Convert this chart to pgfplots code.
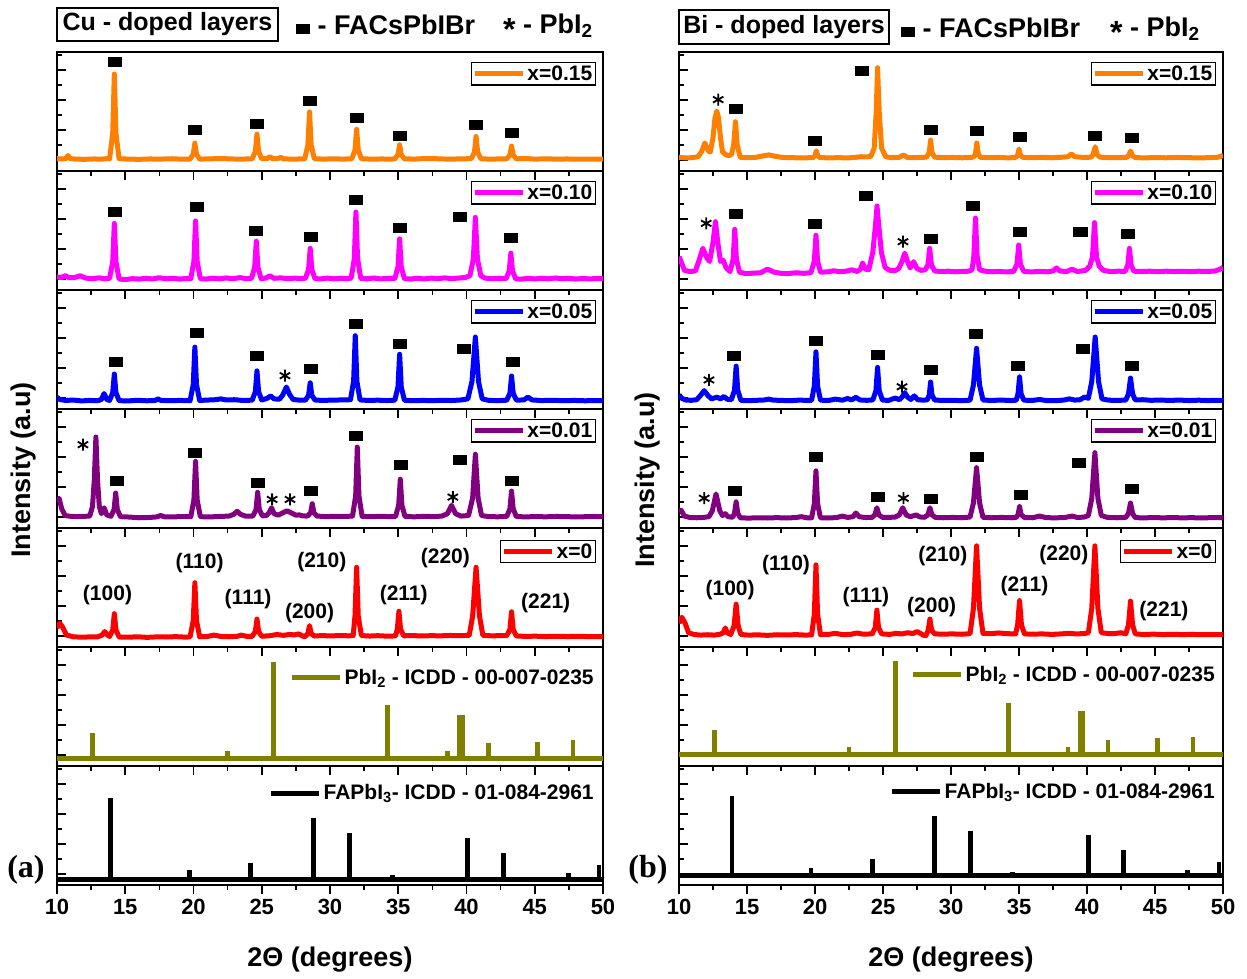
\documentclass[border=0pt]{standalone}
\usepackage{fontspec}
\setmainfont{Liberation Sans}
\newfontfamily\serifb{Liberation Serif}
\usepackage{pgfplots}
\pgfplotsset{compat=1.18}
\definecolor{corange}{RGB}{255,128,0}
\definecolor{cmag}{RGB}{255,0,255}
\definecolor{cblue}{RGB}{0,0,255}
\definecolor{cpurp}{RGB}{128,0,128}
\definecolor{cred}{RGB}{255,0,0}
\definecolor{colive}{RGB}{128,128,0}
\pgfplotsset{
  panel/.style={
    scale only axis, anchor=south west, width=#1, height=119pt,
    xmin=10, xmax=50, ymin=0, ymax=100,
    xtick={10,15,...,50}, minor x tick num=1,
    ytick={9.2,34.4,59.6,84.8}, minor ytick={21.8,47,72.2,97.4},
    xtick pos=bottom, ytick pos=left,
    xtick align=outside, ytick align=inside,
    xticklabels={}, yticklabels={},
    axis line style={line width=1.6pt},
    tick style={black,line width=1.6pt},
    major tick length=9pt, minor tick length=5pt,
    unbounded coords=jump,
    legend cell align=left,
  },
  bottompanel/.style={xticklabels={10,15,20,25,30,35,40,45,50},
    xticklabel style={font=\fontsize{22}{22}\selectfont\bfseries, yshift=-2pt}},
  explegend/.style={legend style={at={(#1)}, anchor=north east, draw=black, line width=1.3pt, fill=white,
     font=\fontsize{21}{22}\selectfont\bfseries, inner xsep=1pt, inner ysep=1pt},
     legend image code/.code={\draw[##1,line width=5pt] (0pt,0pt) -- (48pt,0pt);}},
  reflegend/.style={legend style={at={(#1)}, anchor=east, draw=none, fill=none,
     font=\fontsize{21}{22}\selectfont\bfseries, inner sep=0pt},
     legend image code/.code={\draw[##1,line width=5pt] (0pt,0pt) -- (48pt,0pt);}},
  trace/.style={line width=5pt, line join=round, color=#1, mark=none},
  stick/.style={line width=4.8pt, line cap=butt, color=#1, mark=none, forget plot},
  sq/.style={only marks, mark=square*, mark size=4.5pt, mark options={xscale=1.45, fill=black, draw=black}, forget plot},
  st/.style={only marks, mark=asterisk, mark size=6pt, mark options={line width=1.8pt, draw=black}, forget plot},
  hkl/.style={draw=none, mark=none, nodes near coords, point meta=explicit symbolic,
     every node near coord/.style={anchor=center, black, font=\fontsize{21}{21}\selectfont\bfseries}, forget plot},
}
\begin{document}
\begin{tikzpicture}[x=1pt,y=1pt]
\useasboundingbox (0,0) rectangle (1247,978);
%================= LEFT COLUMN =================
% panel 1
\begin{axis}[panel=546pt, at={(57pt,807pt)}, explegend={0.987,0.915}]
\addplot[trace=corange] coordinates {(10,10.3)(10.5,10.2)(10.65,10.5)(10.8,13)(10.95,10.5)(11.3,10)(12,9.8)(12.7,10.1)(13.3,10)(13.7,10.4)(13.85,10.2)(14.08,31.5)(14.2,81.5)(14.32,31.5)(14.55,10.4)(15.2,10)(16,9.8)(16.8,10.1)(17.6,10)(18.4,10.3)(19.2,9.9)(19.75,10)(19.98,14)(20.1,23.5)(20.22,14)(20.45,10)(21.2,10.2)(22,10.5)(22.8,10.1)(23.5,10)(24.3,10.2)(24.53,16.3)(24.65,31)(24.77,16.3)(25,10.3)(25.4,10.4)(25.6,12)(25.8,10.3)(26.2,10.5)(26.4,11.5)(26.6,10.2)(27.2,10)(27.8,10.1)(28.15,10.2)(28.38,21.9)(28.5,49.6)(28.62,21.9)(28.85,10.3)(29.5,10)(30.3,10.2)(31,10)(31.6,10.3)(31.83,17.5)(31.95,35)(32.07,17.5)(32.3,10.3)(33,10)(33.8,10.1)(34.5,10)(34.75,10.2)(34.98,13.6)(35.1,22)(35.22,13.6)(35.45,10.2)(36.2,10)(37,10.5)(37.8,10.3)(38.6,10)(39.4,10.1)(40.35,10.4)(40.58,15.7)(40.7,29)(40.82,15.7)(41.05,10.3)(41.6,10)(42.3,10.1)(42.95,10.3)(43.18,13.3)(43.3,21)(43.42,13.3)(43.65,10.2)(44.3,10.5)(45,10)(45.8,10.2)(46.6,10)(47.4,10.1)(48.2,9.9)(49,10)(50,10)};
\addlegendentry{x=0.15}
\addplot[sq] coordinates {(14.2,91.6)(20.1,35)(24.65,40)(28.5,59)(31.95,45)(35.1,30)(40.7,38.6)(43.3,32)};
\end{axis}
% panel 2
\begin{axis}[panel=546pt, at={(57pt,688pt)}, explegend={0.987,0.915}]
\addplot[trace=cmag] coordinates {(10,11)(10.3,10.5)(10.6,12)(10.9,10.3)(11.3,10.5)(11.7,12)(12.1,10)(12.6,9.5)(13.1,10.2)(13.5,9.4)(13.85,9.8)(14.08,23.5)(14.2,56)(14.32,23.5)(14.55,9.2)(15,8.8)(15.5,9.5)(16,9.2)(16.5,9.8)(17,9.3)(17.5,10.3)(18,9.4)(18.5,9.8)(19,9.2)(19.5,9.7)(19.8,9.6)(20.03,24)(20.15,58)(20.27,24)(20.5,9.5)(20.9,9.2)(21.4,9.9)(21.9,9.4)(22.4,10.1)(22.9,9.5)(23.4,10.4)(23.8,9.6)(24.25,9.8)(24.48,19)(24.6,41)(24.72,19)(24.95,9.6)(25.3,10)(25.6,12)(25.9,9.8)(26.4,10.2)(26.9,9.5)(27.4,10)(27.8,9.6)(28.2,9.9)(28.43,17.2)(28.55,35)(28.67,17.2)(28.9,9.6)(29.3,9.3)(29.8,10)(30.3,9.4)(30.8,9.9)(31.2,9.5)(31.55,10)(31.78,26.3)(31.9,65.5)(32.02,26.3)(32.25,9.8)(32.7,9.4)(33.2,10.1)(33.7,9.3)(34.2,9.8)(34.75,9.6)(34.98,19.5)(35.1,43)(35.22,19.5)(35.45,9.5)(35.9,9.2)(36.4,9.9)(36.9,9.3)(37.4,10)(37.9,9.5)(38.4,10.2)(38.9,9.6)(39.4,10)(39.9,10.5)(40.25,12)(40.5,26)(40.65,61)(40.8,26)(41.05,12)(41.35,10)(41.8,9.5)(42.3,9.8)(42.9,9.6)(43.13,16)(43.25,31)(43.37,16)(43.6,9.4)(44,9.1)(44.5,9.8)(45,9.3)(45.5,9.9)(46,9.4)(46.5,10.1)(47,9.5)(47.5,9.8)(48,9.2)(48.5,9.7)(49,9.3)(49.5,9.6)(50,9.5)};
\addlegendentry{x=0.10}
\addplot[sq] coordinates {(14.2,65.5)(20.2,70)(24.55,50)(28.6,45)(31.9,75.6)(35.1,52)(39.5,62)(43.25,44)};
\end{axis}
% panel 3
\begin{axis}[panel=546pt, at={(57pt,569pt)}, explegend={0.987,0.915}]
\addplot[trace=cblue] coordinates {(10,10)(10.2,8)(10.6,7.2)(11.2,7.5)(11.8,6.8)(12.4,7.2)(13,7)(13.25,8)(13.45,13)(13.65,8)(13.85,7.2)(14.08,13.7)(14.2,29.4)(14.32,13.7)(14.55,7)(15.2,6.8)(15.9,7.3)(16.6,6.9)(17.2,7.2)(17.4,8.5)(17.6,7.2)(18.3,7)(19,7.2)(19.75,7)(19.98,20.5)(20.1,52)(20.22,20.5)(20.45,7.2)(21,7.5)(21.6,7.8)(22,8.5)(22.4,7.6)(23,7.8)(23.6,7.2)(24.3,7.4)(24.53,14.5)(24.65,32)(24.77,14.5)(25,7.5)(25.4,9)(25.65,11)(25.9,8.5)(26.3,8.2)(26.55,12)(26.8,18.5)(27.05,12)(27.3,8)(27.7,7.5)(28.2,7.4)(28.43,11.5)(28.55,22)(28.67,11.5)(28.9,7.5)(29.5,7.2)(30.2,7.5)(30.9,7.6)(31.5,7.8)(31.73,23.4)(31.85,61.6)(31.97,23.4)(32.2,7.6)(32.8,7.2)(33.5,7.4)(34.2,7.1)(34.75,7.4)(34.98,18.7)(35.1,46)(35.22,18.7)(35.45,7.3)(36.1,7)(36.8,7.2)(37.5,7)(38.2,7.3)(38.9,7.1)(39.6,7.6)(40.1,8.5)(40.4,23)(40.65,60.5)(40.88,23)(41.15,8.5)(41.6,7.3)(42.3,7)(42.95,7.4)(43.18,13.2)(43.3,27.7)(43.42,13.2)(43.65,7.5)(44.2,7.6)(44.5,10)(44.8,7.6)(45.5,7.1)(46.3,7.3)(47.1,7)(47.9,7.2)(48.7,6.9)(49.4,7.1)(50,7)};
\addlegendentry{x=0.05}
\addplot[sq] coordinates {(14.3,40)(20.2,64)(24.65,45)(28.6,33.6)(31.85,72)(35.1,55)(39.8,51)(43.4,40)};
\addplot[st] coordinates {(26.7,28)};
\end{axis}
% panel 4
\begin{axis}[panel=546pt, at={(57pt,450pt)}, explegend={0.987,0.915}]
\addplot[trace=cpurp] coordinates {(10,22)(10.15,25)(10.35,16)(10.6,10.5)(11,9.8)(11.5,9.6)(12,9.8)(12.4,10)(12.6,18)(12.73,40)(12.85,76.5)(12.97,40)(13.1,18)(13.25,12)(13.45,17)(13.65,11)(13.95,9.8)(14.18,15.5)(14.3,29.4)(14.42,15.5)(14.65,9.5)(15.3,9.2)(16,8.6)(16.7,8.8)(17.3,9.3)(17.6,10.5)(17.9,9.3)(18.6,9.4)(19.3,9.6)(19.8,9.5)(20.03,23.5)(20.15,56)(20.27,23.5)(20.5,9.5)(21.2,9.3)(21.9,9.7)(22.6,10)(22.95,11.5)(23.2,14)(23.45,11.5)(23.8,10)(24.35,10)(24.58,15.5)(24.7,30)(24.82,15.5)(25.05,10.2)(25.35,10.5)(25.55,13)(25.72,17)(25.9,12)(26.2,10.8)(26.5,12.5)(26.85,14.5)(27.2,12.5)(27.5,10.8)(27.75,11)(28,10.2)(28.35,10)(28.58,12.8)(28.7,20.4)(28.82,12.8)(29.05,10)(29.7,9.6)(30.4,9.8)(31.1,9.7)(31.65,10)(31.88,27)(32,68)(32.12,27)(32.35,9.8)(33,9.5)(33.7,9.8)(34.4,9.5)(34.8,9.7)(35.03,19)(35.15,41)(35.27,19)(35.5,9.6)(36.2,9.4)(36.9,9.8)(37.6,9.6)(38.2,10)(38.6,12)(38.9,19)(39.2,12)(39.6,10)(40.15,10.5)(40.45,25.2)(40.65,62)(40.85,25.2)(41.1,10.5)(41.6,9.6)(42.3,9.4)(42.95,9.8)(43.18,16)(43.3,31)(43.42,16)(43.65,9.7)(44.3,9.3)(45,9.6)(45.8,9.4)(46.6,9.7)(47.4,9.5)(48.2,9.3)(49,9.6)(50,9.5)};
\addlegendentry{x=0.01}
\addplot[sq] coordinates {(14.35,39.5)(20.1,63)(24.7,38)(28.6,31)(31.9,77.5)(35.2,53)(39.5,57)(43.3,40)};
\addplot[st] coordinates {(11.9,70)(25.76,24)(27.07,24)(39.0,26)};
\end{axis}
% panel 5
\begin{axis}[panel=546pt, at={(57pt,331pt)}, explegend={0.987,0.9}]
\addplot[trace=cred] coordinates {(10,16)(10.2,20)(10.4,17)(10.7,10)(11.2,8.6)(11.8,8.2)(12.4,8.5)(13,8.6)(13.3,10)(13.5,13)(13.7,10)(13.85,8.8)(14.08,14.3)(14.2,28)(14.32,14.3)(14.55,8.4)(15.2,8.2)(15.9,8.6)(16.6,8.1)(17.3,8.5)(18,8.4)(18.7,8.7)(19.4,8.3)(19.75,8.5)(19.98,22.1)(20.1,54)(20.22,22.1)(20.45,8.6)(21,8.8)(21.5,10)(22,8.9)(22.6,8.6)(23.2,9)(23.5,10)(23.9,8.9)(24.3,9)(24.53,13)(24.65,23.5)(24.77,13)(25,9)(25.6,9.5)(26.1,10.5)(26.6,9.8)(27,10.5)(27.4,10.2)(27.7,11)(27.95,9.5)(28.15,8.5)(28.38,11.3)(28.5,18)(28.62,11.3)(28.85,9.2)(29.4,9.6)(30,9.3)(30.7,9.6)(31.4,9.4)(31.7,9.6)(31.83,26)(31.95,67)(32.07,26)(32.3,9.6)(32.9,9.2)(33.5,9.5)(34.2,9.1)(34.8,9.3)(34.93,14.9)(35.05,30)(35.17,14.9)(35.4,9.4)(36,9.6)(36.7,9.3)(37.4,9.5)(38.1,9.4)(38.8,9.7)(39.5,9.5)(40.2,9.8)(40.45,26)(40.7,67)(40.95,26)(41.2,9.8)(41.8,9.4)(42.4,9.5)(42.95,9.6)(43.18,14.7)(43.3,29.6)(43.42,14.7)(43.65,9.3)(44.3,8.9)(45,9.1)(45.8,8.8)(46.6,9)(47.4,8.8)(48.2,9)(49,8.7)(50,8.8)};
\addlegendentry{x=0}
\addplot[hkl] table[meta=lab, row sep=\\] {x y lab\\ 13.7 43.7 (100)\\ 20.45 70.3 (110)\\ 24.0 40 (111)\\ 28.5 28.8 (200)\\ 29.4 71.7 (210)\\ 35.4 43.7 (211)\\ 38.45 74.5 (220)\\ 45.8 37.2 (221)\\};
\end{axis}
% panel 6
\begin{axis}[panel=546pt, at={(57pt,212pt)}, reflegend={0.987,0.74}]
\addplot[trace=colive, line cap=butt] coordinates {(10,6.5)(50,6.5)};
\addlegendentry{PbI\textsubscript{2} - ICDD - 00-007-0235}
\addplot[stick=colive] coordinates {(12.6,6.5)(12.6,27.7)(12.6,nan)(22.5,6.5)(22.5,12.6)(22.5,nan)(25.85,6.5)(25.85,87)(25.85,nan)(34.2,6.5)(34.2,51)(34.2,nan)(38.6,6.5)(38.6,12.9)(38.6,nan)(39.5,6.5)(39.5,43)(39.5,nan)(39.7,6.5)(39.7,43)(39.7,nan)(41.6,6.5)(41.6,19)(41.6,nan)(45.2,6.5)(45.2,20.4)(45.2,nan)(47.8,6.5)(47.8,22)};
\end{axis}
% panel 7
\begin{axis}[panel=546pt, at={(57pt,93pt)}, bottompanel, reflegend={0.987,0.773}]
\addplot[trace=black, line cap=butt] coordinates {(10,5)(50,5)};
\addlegendentry{FAPbI\textsubscript{3}- ICDD - 01-084-2961}
\addplot[stick=black] coordinates {(13.9,5)(13.9,73)(13.9,nan)(19.7,5)(19.7,12.6)(19.7,nan)(24.2,5)(24.2,18.7)(24.2,nan)(28.8,5)(28.8,56.5)(28.8,nan)(31.45,5)(31.45,44)(31.45,nan)(34.55,5)(34.55,8.4)(34.55,nan)(40.1,5)(40.1,39.5)(40.1,nan)(42.7,5)(42.7,27)(42.7,nan)(45.1,5)(45.1,6)(45.1,nan)(47.5,5)(47.5,10.3)(47.5,nan)(49.7,5)(49.7,16.8)};
\end{axis}
%================= RIGHT COLUMN =================
\begin{axis}[panel=544pt, at={(679pt,807pt)}, explegend={0.987,0.915}]
\addplot[trace=corange] coordinates {(10,11.5)(10.5,11)(11,11.2)(11.4,12)(11.65,16)(11.9,23.5)(12.15,17)(12.3,16)(12.5,28)(12.65,45)(12.78,50.4)(12.9,45)(13.05,28)(13.2,16)(13.4,14)(13.6,13)(13.85,13.5)(14.02,22)(14.15,41.4)(14.28,22)(14.5,11.5)(15,11.2)(15.6,11.4)(16.1,12.5)(16.6,13.5)(17.1,12.3)(17.6,11.4)(18.3,11.2)(19,11)(19.7,11.2)(19.9,11.5)(20,12.8)(20.1,17)(20.2,12.8)(20.35,11.3)(21,11)(21.7,11.2)(22.4,11)(23,11.5)(23.4,12)(23.7,11.8)(24.1,12.2)(24.35,19)(24.5,50)(24.6,86.8)(24.72,50)(24.9,19)(25.2,12)(25.6,11.2)(26.2,11.5)(26.5,13.5)(26.8,11.3)(27.3,11.2)(27.9,11.5)(28.2,11.6)(28.4,15.5)(28.5,26)(28.6,15.5)(28.8,11.6)(29.4,11.2)(30.1,11.4)(30.8,11.1)(31.5,11.4)(31.7,12)(31.8,14.75)(31.9,23.5)(32,14.75)(32.15,11.5)(32.8,11.2)(33.5,11.4)(34.2,11)(34.75,11.4)(34.9,13.2)(35,18.5)(35.1,13.2)(35.3,11.4)(36,11.2)(36.7,11.5)(37.4,11.1)(38.1,11.5)(38.6,12)(38.85,14.3)(39.1,12)(39.7,11.4)(40.3,11.6)(40.45,13.8)(40.6,20.4)(40.75,13.8)(40.95,11.6)(41.6,11.3)(42.3,11.2)(42.9,11.4)(43.05,12.7)(43.2,16.8)(43.35,12.7)(43.55,11.3)(44.2,11)(45,11.3)(45.8,11.1)(46.6,11.4)(47.4,11.2)(48.2,11)(49,11.2)(49.6,11.5)(50,13)};
\addlegendentry{x=0.15}
\addplot[sq] coordinates {(14.14,52)(20,25.5)(23.44,84)(28.5,35)(31.87,33.6)(35.04,29)(40.56,30)(43.3,27.7)};
\addplot[st] coordinates {(12.88,60)};
\end{axis}
\begin{axis}[panel=544pt, at={(679pt,688pt)}, explegend={0.987,0.915}]
\addplot[trace=cmag] coordinates {(10,28)(10.15,24)(10.4,16.5)(10.8,15.5)(11.2,16)(11.45,24)(11.75,35)(12.05,27)(12.25,24)(12.5,40)(12.68,57.4)(12.85,40)(13.05,24)(13.25,25)(13.45,19)(13.75,15.5)(13.98,25.8)(14.1,51)(14.22,25.8)(14.45,15)(14.9,13.8)(15.5,14.2)(16,14.5)(16.5,17.5)(17,15)(17.5,14)(18,13.8)(18.6,14.5)(19.2,14)(19.7,14.6)(19.95,24.3)(20.07,46)(20.19,24.3)(20.4,15)(20.9,15.2)(21.4,16.2)(21.8,15.4)(22.3,15.8)(22.7,17)(23.1,15.6)(23.35,17.5)(23.5,22.7)(23.7,17.5)(23.95,17)(24.25,31.7)(24.45,55)(24.56,70.6)(24.68,55)(24.88,31.7)(25.15,19)(25.5,16.5)(25.9,16.3)(26.15,18)(26.4,24)(26.6,31)(26.8,24)(27,18.5)(27.25,23.8)(27.5,18)(27.8,16.5)(28.1,17)(28.3,21)(28.43,35)(28.56,21)(28.8,16)(29.3,15.5)(29.8,15.8)(30.3,15.3)(30.8,15.6)(31.3,15.8)(31.55,17)(31.68,28.6)(31.8,60.5)(31.92,28.6)(32.1,17)(32.5,15.8)(33,15.3)(33.5,15.7)(34,15.2)(34.6,15.5)(34.85,21.8)(34.98,37.8)(35.1,21.8)(35.35,15.6)(35.9,15.2)(36.5,15.6)(37.1,15.3)(37.5,16)(37.75,18.5)(38,16)(38.5,15.5)(38.9,17.5)(39.3,15.5)(39.9,16.5)(40.2,20)(40.4,27.5)(40.55,56.6)(40.7,27.5)(40.9,20)(41.2,16.5)(41.7,15.5)(42.3,15.8)(42.8,15.6)(43,21)(43.12,35)(43.24,21)(43.45,15.8)(44,15.5)(44.6,15.8)(45.2,15.4)(45.8,15.8)(46.4,15.5)(47,15.7)(47.6,15.4)(48.2,15.8)(48.8,15.6)(49.4,15.9)(49.8,17.5)(50,19)};
\addlegendentry{x=0.10}
\addplot[sq] coordinates {(14.14,64)(20,55.5)(23.74,79)(28.5,43)(31.6,70.6)(35.04,49)(39.5,49)(43,47)};
\addplot[st] coordinates {(12,56)(26.47,40.6)};
\end{axis}
\begin{axis}[panel=544pt, at={(679pt,569pt)}, explegend={0.987,0.915}]
\addplot[trace=cblue] coordinates {(10,12)(10.2,9)(10.5,7.5)(10.9,7.3)(11.3,7.8)(11.55,11)(11.85,15.4)(12.15,11)(12.4,8.5)(12.8,10)(13.05,8.5)(13.3,10.5)(13.55,8.2)(13.85,7.8)(14.08,15.7)(14.2,36)(14.32,15.7)(14.55,7.3)(15.1,7)(15.7,7.3)(16.3,7.6)(16.6,8.3)(16.9,7.5)(17.5,7.2)(18.2,7)(18.9,7.5)(19.3,7.2)(19.75,7.3)(19.95,19.3)(20.07,48)(20.19,19.3)(20.4,7.4)(21,7.2)(21.5,8.3)(22,7.4)(22.4,8.8)(22.7,7.6)(23,9.8)(23.3,7.6)(23.8,7.3)(24.25,7.6)(24.48,15.4)(24.6,35)(24.72,15.4)(24.95,7.5)(25.4,7.2)(25.9,9.2)(26.2,7.8)(26.4,10)(26.6,13.7)(26.8,10)(27.05,8)(27.3,11)(27.55,7.8)(27.9,7.5)(28.25,7.6)(28.4,11.7)(28.5,22.7)(28.6,11.7)(28.8,7.5)(29.4,7.2)(30.1,7.3)(30.8,7)(31.4,7.4)(31.65,20.2)(31.88,51)(32.1,20.2)(32.35,7.5)(33,7.2)(33.7,7.5)(34.4,7.1)(34.8,7.4)(34.93,13)(35.04,27)(35.15,13)(35.35,7.4)(36,7.2)(36.5,8)(37,7.1)(37.7,7)(38.3,7.5)(38.7,8.5)(39.1,7.5)(39.5,7.8)(39.8,10)(40.1,9)(40.35,23)(40.6,60.5)(40.85,23)(41.1,8.5)(41.6,7.4)(42.2,7.2)(42.85,7.5)(43.05,12.7)(43.2,26)(43.35,12.7)(43.55,7.6)(44.1,7.8)(44.7,7.3)(45.4,7.5)(46.1,7.2)(46.8,7.5)(47.5,7.1)(48.2,7.4)(48.9,7.1)(49.5,7.3)(50,7.2)};
\addlegendentry{x=0.05}
\addplot[sq] coordinates {(14,45)(20.07,57.4)(24.6,46)(28.5,32.8)(31.8,63)(34.9,36)(39.7,51)(43.3,36)};
\addplot[st] coordinates {(12.2,24.4)(26.4,18.7)};
\end{axis}
\begin{axis}[panel=544pt, at={(679pt,450pt)}, explegend={0.987,0.915}]
\addplot[trace=cpurp] coordinates {(10,14)(10.15,15)(10.4,10)(10.8,8.8)(11.3,8.6)(11.8,8.9)(12.2,9.5)(12.45,14.4)(12.72,28.6)(13,14.4)(13.2,10.5)(13.4,12)(13.6,9.5)(13.95,9)(14.08,12.4)(14.2,22)(14.32,12.4)(14.5,8.6)(15.1,8.3)(15.8,8.6)(16.5,8.4)(17.2,8.7)(17.9,8.4)(18.6,8.8)(19,9.5)(19.4,8.6)(19.75,8.5)(19.95,20.4)(20.07,48)(20.19,20.4)(20.4,8.6)(21,8.4)(21.6,8.8)(22,10)(22.4,8.9)(22.8,9.5)(23,12.6)(23.25,9.5)(23.7,8.8)(24.2,8.9)(24.4,11)(24.55,17)(24.7,11)(24.95,9)(25.4,8.9)(25.9,9.2)(26.2,11)(26.45,17)(26.7,11)(27,9.5)(27.45,11)(27.7,9.3)(28.05,9)(28.3,11)(28.45,17)(28.6,11)(28.85,8.9)(29.4,8.6)(30.1,8.9)(30.8,8.6)(31.4,9.2)(31.65,21.1)(31.88,50.7)(32.1,21.1)(32.35,9)(33,8.6)(33.7,8.9)(34.4,8.6)(34.8,8.9)(34.93,11.3)(35.04,18)(35.15,11.3)(35.4,8.8)(36,8.6)(36.5,10)(37,8.7)(37.7,8.5)(38.4,8.9)(38.9,10)(39.3,8.8)(39.8,9.2)(40.1,10.5)(40.35,24.9)(40.58,63.3)(40.8,24.9)(41.05,10.5)(41.5,8.9)(42.2,8.6)(42.85,8.9)(43.05,12.2)(43.2,21)(43.35,12.2)(43.55,8.7)(44.2,8.5)(44.9,8.8)(45.6,8.5)(46.3,8.8)(47,8.5)(47.7,8.7)(48.4,8.4)(49.1,8.7)(50,8.6)};
\addlegendentry{x=0.01}
\addplot[sq] coordinates {(14.1,31)(20.07,60)(24.6,26)(28.5,24.4)(31.9,60)(35.1,28)(39.4,55)(43.3,32.8)};
\addplot[st] coordinates {(11.85,25)(26.5,25)};
\end{axis}
\begin{axis}[panel=544pt, at={(679pt,331pt)}, explegend={0.987,0.9}]
\addplot[trace=cred] coordinates {(10,20)(10.2,25)(10.45,20)(10.7,12)(11.1,10.5)(11.6,10)(12.1,10.3)(12.6,10)(13.05,10.8)(13.25,12)(13.4,16)(13.55,12)(13.8,10.5)(14.05,17.8)(14.2,36)(14.35,17.8)(14.55,10.5)(15.1,10)(15.8,10.2)(16.5,9.8)(17.2,10.3)(17.9,10.1)(18.6,10.4)(19.3,10)(19.75,10.2)(19.95,27.7)(20.07,69)(20.19,27.7)(20.4,10.4)(21,10.6)(21.5,11.5)(22,10.4)(22.6,10.6)(23.1,11.8)(23.5,10.8)(24.2,11)(24.43,16.3)(24.55,31)(24.67,16.3)(24.9,11)(25.5,10.6)(26,11.5)(26.4,11)(26.8,12)(27.2,11.3)(27.5,13)(27.75,11.5)(27.95,10)(28.15,9.5)(28.32,14)(28.45,23.5)(28.58,14)(28.8,11)(29.4,10.8)(30.1,11)(30.8,10.7)(31.4,11.2)(31.65,32.5)(31.88,85)(32.1,32.5)(32.35,11.5)(32.9,11.2)(33.5,11.8)(34.1,11.2)(34.75,11)(34.9,18.7)(35.04,39)(35.18,18.7)(35.4,11)(36,10.8)(36.7,11)(37.4,10.6)(38.1,11)(38.6,11.5)(39.2,11)(39.8,11.3)(40.1,12)(40.35,32.5)(40.58,85)(40.8,32.5)(41.05,12)(41.6,11.2)(42.1,11.4)(42.5,12)(42.85,11)(43.05,18.6)(43.2,38.6)(43.35,18.6)(43.55,11)(44.2,10.5)(44.9,10.8)(45.6,10.4)(46.3,10.7)(47,10.4)(47.7,10.6)(48.4,10.3)(49.1,10.5)(50,10.4)};
\addlegendentry{x=0}
\addplot[hkl] table[meta=lab, row sep=\\] {x y lab\\ 13.76 48 (100)\\ 17.87 69 (110)\\ 23.74 42.3 (111)\\ 28.58 33.4 (200)\\ 29.4 76.5 (210)\\ 35.4 51 (211)\\ 38.3 77.3 (220)\\ 45.66 30.5 (221)\\};
\end{axis}
\begin{axis}[panel=544pt, at={(679pt,212pt)}, reflegend={0.989,0.765}]
\addplot[trace=colive, line cap=butt] coordinates {(10,10)(50,10)};
\addlegendentry{PbI\textsubscript{2} - ICDD - 00-007-0235}
\addplot[stick=colive] coordinates {(12.6,10)(12.6,30)(12.6,nan)(22.5,10)(22.5,16)(22.5,nan)(25.9,10)(25.9,88)(25.9,nan)(34.2,10)(34.2,53)(34.2,nan)(38.6,10)(38.6,16)(38.6,nan)(39.5,10)(39.5,46)(39.5,nan)(39.7,10)(39.7,46)(39.7,nan)(41.55,10)(41.55,22)(41.55,nan)(45.2,10)(45.2,23.5)(45.2,nan)(47.8,10)(47.8,24.6)};
\end{axis}
\begin{axis}[panel=544pt, at={(679pt,93pt)}, bottompanel, reflegend={0.989,0.784}]
\addplot[trace=black, line cap=butt] coordinates {(10,8.4)(50,8.4)};
\addlegendentry{FAPbI\textsubscript{3}- ICDD - 01-084-2961}
\addplot[stick=black] coordinates {(13.9,8.4)(13.9,74.8)(13.9,nan)(19.7,8.4)(19.7,14.5)(19.7,nan)(24.2,8.4)(24.2,21.8)(24.2,nan)(28.8,8.4)(28.8,58)(28.8,nan)(31.45,8.4)(31.45,45.6)(31.45,nan)(34.5,8.4)(34.5,11)(34.5,nan)(40.1,8.4)(40.1,42)(40.1,nan)(42.7,8.4)(42.7,29.6)(42.7,nan)(45.1,8.4)(45.1,9)(45.1,nan)(47.4,8.4)(47.4,12.6)(47.4,nan)(49.7,8.4)(49.7,19.6)};
\end{axis}
%================= TEXT =================
\node[draw, line width=1.5pt, minimum width=221pt, minimum height=33pt, inner sep=0pt,
  font=\fontsize{25}{25}\selectfont\bfseries] at (167.5,953.5) {Cu - doped layers};
\node[anchor=west, inner sep=0pt, font=\fontsize{27}{27}\selectfont\bfseries] at (296,953)
  {\rule[1pt]{14pt}{10pt} - FACsPbIBr};
\node[anchor=west, inner sep=0pt, font=\fontsize{27}{27}\selectfont\bfseries] at (503,951)
  {\raisebox{-7pt}{\fontsize{32}{32}\selectfont *} - PbI\textsubscript{2}};
\node[draw, line width=1.5pt, minimum width=210pt, minimum height=34pt, inner sep=0pt,
  font=\fontsize{25}{25}\selectfont\bfseries] at (784,951) {Bi - doped layers};
\node[anchor=west, inner sep=0pt, font=\fontsize{27}{27}\selectfont\bfseries] at (901,950)
  {\rule[1pt]{14pt}{10pt} - FACsPbIBr};
\node[anchor=west, inner sep=0pt, font=\fontsize{27}{27}\selectfont\bfseries] at (1110,948)
  {\raisebox{-7pt}{\fontsize{32}{32}\selectfont *} - PbI\textsubscript{2}};
\node[rotate=90, font=\fontsize{27}{27}\selectfont\bfseries] at (24,508) {Intensity (a.u)};
\node[rotate=90, font=\fontsize{27}{27}\selectfont\bfseries] at (648,498) {Intensity (a.u)};
\node[font=\fontsize{27}{27}\selectfont\bfseries] at (330,18) {2Θ (degrees)};
\node[font=\fontsize{27}{27}\selectfont\bfseries] at (951,18) {2Θ (degrees)};
\node[font=\fontsize{32}{32}\selectfont\serifb\bfseries] at (26,108) {(a)};
\node[font=\fontsize{32}{32}\selectfont\serifb\bfseries] at (648,108) {(b)};
\end{tikzpicture}
\end{document}
